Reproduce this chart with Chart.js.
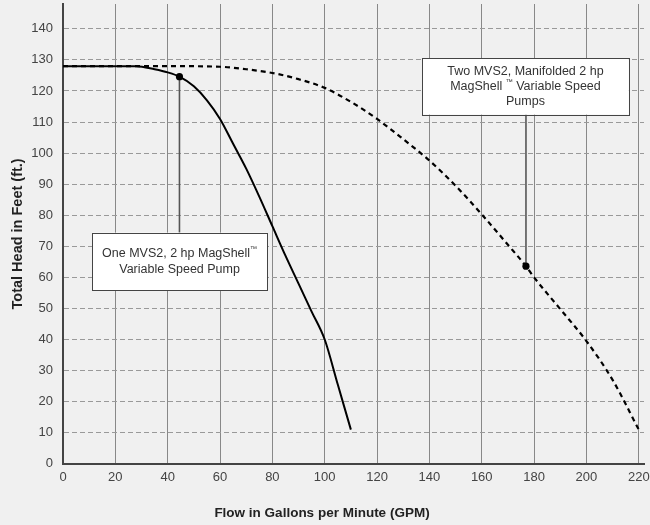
<!DOCTYPE html>
<html><head><meta charset="utf-8">
<script src="https://cdn.jsdelivr.net/npm/chart.js@4"></script>
<style>html,body{margin:0;padding:0;background:#f0f0f0}#wrap{width:650px;height:525px}</style>
</head><body><div id="wrap"><canvas id="c" width="650" height="525"></canvas></div>
<script>
const xTicks = [0,20,40,60,80,100,120,140,160,180,200,220];
const yTicks = [0,10,20,30,40,50,60,70,80,90,100,110,120,130,140];
const onePumpFlow = [0,10,20,28,35,40,44.5,50,55,60,65,70,75,80,85,90,95,100,105,110];
const onePumpHead = [128,128,128,128,127,126,124.6,121.5,117,111,103,95,86,76.5,67,58,49,40,25.5,11];
const twoPumpFlow = [0,20,40,60,70,80,90,100,110,120,130,140,150,160,170,176.9,180,190,200,210,220];
const twoPumpHead = [128,128,128,127.8,127,125.8,123.8,121,116.5,111,104.5,97.6,89.5,80.3,70.5,63.6,60,49.8,39.5,27,11];
const markerFlow = [44.5,176.9];
const markerHead = [124.6,63.6];
const labelOne = ["One MVS2, 2 hp MagShell\u2122","Variable Speed Pump"];
const labelTwo = ["Two MVS2, Manifolded 2 hp","MagShell \u2122 Variable Speed","Pumps"];
const xTitle = "Flow in Gallons per Minute (GPM)";
const yTitle = "Total Head in Feet (ft.)";

const FONT = "'Liberation Sans', Arial, sans-serif";
const zip = (xs, ys) => xs.map((x,i)=>({x, y: ys[i]}));

const bgPlugin = {
  id:'bg',
  beforeDraw(chart){
    const c = chart.ctx; c.save(); c.fillStyle = '#f0f0f0';
    c.fillRect(0,0,chart.width,chart.height); c.restore();
  }
};

function drawRich(c, s, cx, y, size){
  const parts = s.split('\u2122');
  const main = size + 'px ' + FONT, small = Math.round(size*0.55) + 'px ' + FONT;
  let total = 0;
  parts.forEach((p,i) => {
    c.font = main; total += c.measureText(p).width;
    if (i < parts.length-1){ c.font = small; total += c.measureText('\u2122').width; }
  });
  let x = cx - total/2;
  c.textAlign = 'left';
  parts.forEach((p,i) => {
    c.font = main; c.fillText(p, x, y); x += c.measureText(p).width;
    if (i < parts.length-1){ c.font = small; c.fillText('\u2122', x, y - size*0.35); x += c.measureText('\u2122').width; }
  });
}

const calloutPlugin = {
  id:'callouts',
  beforeDatasetsDraw(chart, args, opts){
    const c = chart.ctx, xs = chart.scales.x, ys = chart.scales.y;
    c.save(); c.strokeStyle = '#555'; c.lineWidth = 1.6;
    opts.items.forEach(it => {
      const mx = xs.getPixelForValue(markerFlow[it.marker]);
      const my = ys.getPixelForValue(markerHead[it.marker]);
      const top = ys.getPixelForValue(it.box.yTop), bot = ys.getPixelForValue(it.box.yBottom);
      const edge = my < top ? top : bot;
      c.beginPath(); c.moveTo(mx, my); c.lineTo(mx, edge); c.stroke();
    });
    c.restore();
  },
  afterDatasetsDraw(chart, args, opts){
    const c = chart.ctx, xs = chart.scales.x, ys = chart.scales.y;
    c.save();
    opts.items.forEach(it => {
      const l = xs.getPixelForValue(it.box.xLeft), r = xs.getPixelForValue(it.box.xRight);
      const t = ys.getPixelForValue(it.box.yTop), b = ys.getPixelForValue(it.box.yBottom);
      c.fillStyle = '#ffffff'; c.fillRect(l, t, r-l, b-t);
      c.strokeStyle = '#444'; c.lineWidth = 1; c.strokeRect(Math.round(l)+0.5, Math.round(t)+0.5, Math.round(r-l), Math.round(b-t));
      c.fillStyle = '#333'; c.textBaseline = 'middle';
      const n = it.lines.length, cx = (l+r)/2, cy = (t+b)/2;
      it.lines.forEach((s,i) => drawRich(c, s, cx, cy + (i-(n-1)/2)*it.lh, 12.5));
    });
    c.restore();
  }
};

new Chart(document.getElementById('c'), {
  type:'line',
  data:{
    datasets:[
      {label:'markers', data: zip(markerFlow, markerHead), showLine:false, pointRadius:3.6, pointBackgroundColor:'#000', pointBorderColor:'#000', borderWidth:0},
      {label:'one', data: zip(onePumpFlow, onePumpHead), borderColor:'#000', borderWidth:2, pointRadius:0, cubicInterpolationMode:'monotone', fill:false},
      {label:'two', data: zip(twoPumpFlow, twoPumpHead), borderColor:'#000', borderWidth:2.2, borderDash:[5,4], pointRadius:0, cubicInterpolationMode:'monotone', fill:false}
    ]
  },
  options:{
    responsive:false, animation:false,
    layout:{padding:{left:0, right:6, top:4, bottom:0}},
    scales:{
      x:{type:'linear', min:0, max:222,
        afterBuildTicks: a => { a.ticks = xTicks.map(v=>({value:v})); },
        afterFit: s => { s.height = 31; s.paddingLeft = 0; s.paddingRight = 0; },
        grid:{color:'#888', lineWidth:1, drawTicks:false},
        border:{color:'#444', width:2},
        ticks:{color:'#444', font:{family:FONT, size:13}, padding:6, maxRotation:0, autoSkip:false}
      },
      y:{type:'linear', min:0, max:148,
        afterBuildTicks: a => { a.ticks = yTicks.map(v=>({value:v})); },
        afterFit: s => { s.width = 63; s.paddingTop = 0; s.paddingBottom = 0; },
        grid:{color:'#999', lineWidth:1, drawTicks:false},
        border:{color:'#444', width:2, dash:[5,3]},
        ticks:{color:'#444', font:{family:FONT, size:13}, padding:10},
        title:{display:true, text:yTitle, color:'#222', font:{family:FONT, size:14.5, weight:'bold'}, padding:{top:9, bottom:0}}
      }
    },
    plugins:{
      legend:{display:false}, tooltip:{enabled:false},
      title:{display:true, position:'bottom', text:xTitle, color:'#222', font:{family:FONT, size:13.5, weight:'bold'}, padding:{top:10, bottom:4}},
      callouts:{items:[
        {marker:0, box:{xLeft:11.1, xRight:78, yTop:74.4, yBottom:55.9}, lines:labelOne, lh:16.5},
        {marker:1, box:{xLeft:137.2, xRight:216.2, yTop:130.6, yBottom:112.4}, lines:labelTwo, lh:15}
      ]}
    }
  },
  plugins:[bgPlugin, calloutPlugin]
});
</script></body></html>
